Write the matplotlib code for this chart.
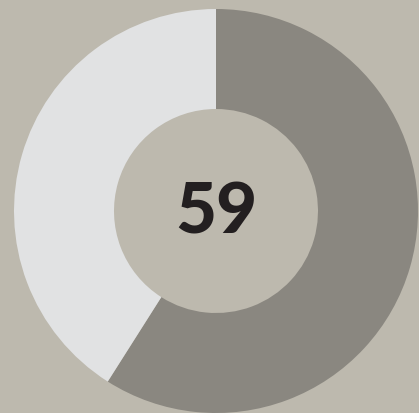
import matplotlib
matplotlib.use("Agg")
import matplotlib.pyplot as plt

# データ
labels = ["score", "rest"]
values = [59, 41]
center_label = "59"

bg = "#bdb9ae"
ring_colors = ["#8a8780", "#e1e2e3"]

fig = plt.figure(figsize=(4.19, 4.14), dpi=100, facecolor=bg)
ax = fig.add_axes([0, 0, 1, 1])
ax.set_facecolor(bg)

ax.pie(values, colors=ring_colors, startangle=90, counterclock=False,
       center=(216, 202), radius=202,
       wedgeprops=dict(width=100, edgecolor="none"))
ax.text(216, 201, center_label, ha="center", va="center",
        fontsize=51, fontweight="black", family="Lato", color="#231f20")

ax.set_xlim(0, 419)
ax.set_ylim(0, 414)
ax.set_aspect("equal")
ax.axis("off")

fig.savefig("out.png", dpi=100, facecolor=bg)
